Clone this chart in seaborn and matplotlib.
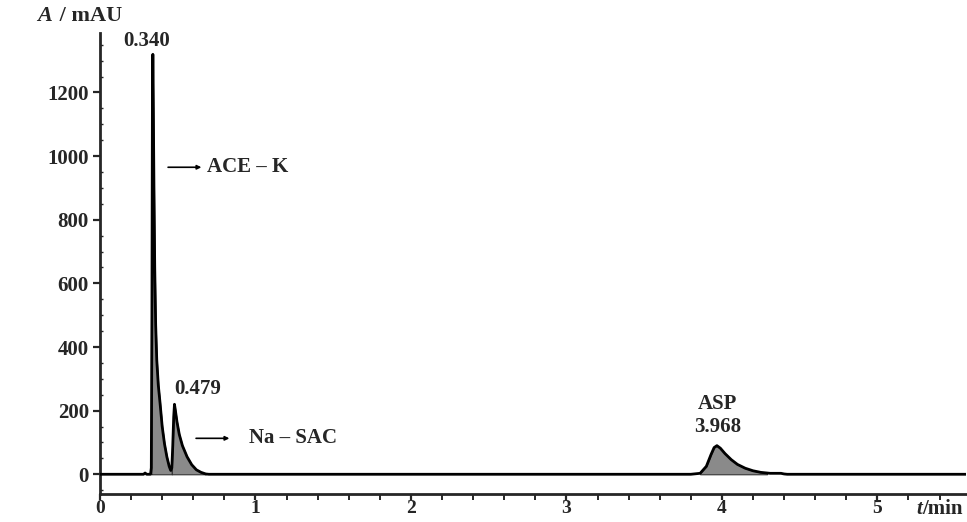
import numpy as np
import pandas as pd
import matplotlib
matplotlib.use("Agg")
import matplotlib.pyplot as plt
from matplotlib.ticker import MultipleLocator
import seaborn as sns

# ---- data ----
time_min = [0.00, 0.20, 0.28, 0.29, 0.30, 0.325, 0.330, 0.334, 0.337, 0.340,
            0.343, 0.347, 0.352, 0.358, 0.365, 0.375, 0.386, 0.40, 0.415, 0.43,
            0.445, 0.455, 0.462, 0.468, 0.474, 0.479, 0.485, 0.495, 0.51, 0.53,
            0.56, 0.59, 0.62, 0.65, 0.68, 0.70, 1.00, 2.00, 3.00, 3.80,
            3.86, 3.90, 3.93, 3.95, 3.968, 3.99, 4.02, 4.06, 4.10, 4.15,
            4.20, 4.25, 4.29, 4.31, 4.38, 4.40, 4.42, 5.00, 5.57]
absorbance = [0, 0, 0, 4, 0, 0, 20, 500, 1150, 1320,
              1150, 900, 650, 470, 360, 280, 225, 150, 95, 55,
              25, 12, 20, 90, 180, 220, 200, 165, 125, 90,
              55, 30, 14, 6, 1, 0, 0, 0, 0, 0,
              3, 25, 62, 84, 90, 82, 65, 46, 31, 19,
              11, 6, 4, 3, 3, 1, 0, 0, 0]

peak_times = ["0.340", "0.479", "3.968"]
peak_names = ["ACE \u2013 K", "Na \u2013 SAC", "ASP"]
x_ticks = [0, 1, 2, 3, 4, 5]
y_ticks = [0, 200, 400, 600, 800, 1000, 1200]

df = pd.DataFrame({"t": time_min, "A": absorbance})

sns.set_theme(style="ticks")
plt.rcParams["font.family"] = ["Liberation Serif", "DejaVu Serif"]
plt.rcParams["font.weight"] = "bold"

FS = 15

fig = plt.figure(figsize=(9.67, 5.22), dpi=100)
ax = fig.add_axes([100 / 967, 1 - 494 / 522, 866 / 967, (494 - 33) / 522])

t = np.array(time_min)
a = np.array(absorbance)
# grey filled peak areas
for lo, hi in [(0.33, 0.462), (0.462, 0.68), (3.86, 4.29)]:
    m = (t >= lo) & (t <= hi)
    ax.fill_between(t[m], 0, a[m], color="#8a8a8a", linewidth=0.8, edgecolor="#333333", zorder=1)

sns.lineplot(data=df, x="t", y="A", ax=ax, color="black", linewidth=2.0, zorder=3,
             estimator=None, sort=False)

ax.set_xlim(0, 5.57)
ax.set_ylim(-62, 1387)
ax.set_xticks(x_ticks)
ax.set_xticklabels([str(v) for v in x_ticks])
ax.set_yticks(y_ticks)
ax.set_yticklabels([str(v) for v in y_ticks])
ax.xaxis.set_minor_locator(MultipleLocator(0.2))
ax.yaxis.set_minor_locator(MultipleLocator(50))
ax.tick_params(axis="y", which="major", labelsize=FS, width=1.6, length=5, direction="out", pad=3)
ax.tick_params(axis="x", which="major", labelsize=FS - 1, width=1.6, length=4, direction="out", pad=0)
ax.tick_params(axis="x", which="minor", width=1.4, length=4, direction="out")
ax.tick_params(axis="y", which="minor", width=1.0, length=2.5, direction="in")
for lbl in ax.get_xticklabels() + ax.get_yticklabels():
    lbl.set_fontweight("bold")
ax.set_xlabel("")
ax.set_ylabel("")
sns.despine(ax=ax)
for s in ["left", "bottom"]:
    ax.spines[s].set_linewidth(2.0)
ax.grid(False)

# axis titles
fig.text(52 / 967, 1 - 16 / 522, "A", fontsize=FS + 1, ha="right", va="center",
         fontweight="bold", fontstyle="italic")
fig.text(54 / 967, 1 - 16 / 522, " / mAU", fontsize=FS + 1, ha="left", va="center", fontweight="bold")
fig.text(922 / 967, 1 - 509 / 522, "t", fontsize=FS, ha="right", va="center",
         fontweight="bold", fontstyle="italic")
fig.text(922 / 967, 1 - 509 / 522, "/min", fontsize=FS, ha="left", va="center", fontweight="bold")

# annotations
ax.text(0.30, 1362, peak_times[0], fontsize=FS, ha="center", va="center")
ax.annotate("", xy=(0.67, 965), xytext=(0.42, 965),
            arrowprops=dict(arrowstyle="-|>", color="black", lw=1.2, mutation_scale=6))
ax.text(0.69, 965, peak_names[0], fontsize=FS, ha="left", va="center")

ax.text(0.63, 268, peak_times[1], fontsize=FS, ha="center", va="center")
ax.annotate("", xy=(0.85, 113), xytext=(0.60, 113),
            arrowprops=dict(arrowstyle="-|>", color="black", lw=1.2, mutation_scale=6))
ax.text(0.96, 113, peak_names[1], fontsize=FS, ha="left", va="center")

ax.text(3.97, 220, peak_names[2], fontsize=FS, ha="center", va="center")
ax.text(3.97, 148, peak_times[2], fontsize=FS, ha="center", va="center")

fig.savefig("out.png", dpi=100)
